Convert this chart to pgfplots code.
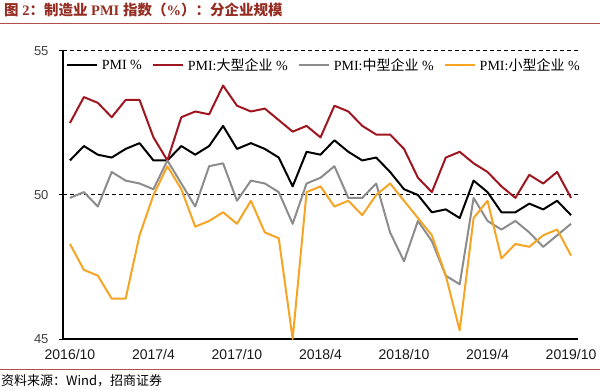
\documentclass[border=0pt]{standalone}
\usepackage{fontspec}
\setmainfont{Liberation Serif}
\newfontfamily\cjk{Noto Sans CJK SC}
\newfontfamily\arial{Liberation Sans}
\usepackage{pgfplots}
\pgfplotsset{compat=1.18}
\usepackage{pgfplotstable}
\definecolor{cblack}{RGB}{0,0,0}
\definecolor{cred}{RGB}{158,22,32}
\definecolor{cgrey}{RGB}{140,140,140}
\definecolor{corange}{RGB}{245,165,35}
\definecolor{ctitle}{RGB}{150,45,35}
\definecolor{cline}{RGB}{175,80,75}

\pgfplotstableread{
x pmi large medium small
0 51.2 52.5 49.9 48.3
1 51.7 53.4 50.1 47.4
2 51.4 53.2 49.6 47.2
3 51.3 52.7 50.8 46.4
4 51.6 53.3 50.5 46.4
5 51.8 53.3 50.4 48.6
6 51.2 52.0 50.2 50.0
7 51.2 51.2 51.2 51.0
8 51.7 52.7 50.4 50.2
9 51.4 52.9 49.6 48.9
10 51.7 52.8 51.0 49.1
11 52.4 53.8 51.1 49.4
12 51.6 53.1 49.8 49.0
13 51.8 52.9 50.5 49.8
14 51.6 53.0 50.4 48.7
15 51.3 52.6 50.1 48.5
16 50.3 52.2 49.0 45.0
17 51.5 52.4 50.4 50.1
18 51.4 52.0 50.6 50.3
19 51.9 53.1 51.0 49.6
20 51.5 52.9 49.9 49.8
21 51.2 52.4 49.9 49.3
22 51.3 52.1 50.4 50.0
23 50.8 52.1 48.7 50.4
24 50.2 51.6 47.7 49.8
25 50.0 50.6 49.1 49.2
26 49.4 50.1 48.4 48.6
27 49.5 51.3 47.2 47.2
28 49.2 51.5 46.9 45.3
29 50.5 51.1 49.9 49.2
30 50.1 50.8 49.1 49.8
31 49.4 50.3 48.8 47.8
32 49.4 49.9 49.1 48.3
33 49.7 50.7 48.7 48.2
34 49.5 50.4 48.2 48.6
35 49.8 50.8 48.6 48.8
36 49.3 49.9 49.0 47.9
}\data

\begin{document}
\begin{tikzpicture}[x=1pt,y=1pt]
\useasboundingbox (-63,-52) rectangle (537,339);
\begin{axis}[
  at={(0,0)}, anchor=south west,
  scale only axis, width=515pt, height=288pt,
  xmin=-0.5, xmax=36.5, ymin=45, ymax=55,
  axis x line*=bottom, axis y line*=left,
  axis line style={line width=1.3pt, black},
  xtick={0,6,12,18,24,30,36},
  xticklabels={2016/10,2017/4,2017/10,2018/4,2018/10,2019/4,2019/10},
  xtick style={draw=none},
  ytick={45,50,55}, yticklabels={45,50,55},
  ytick style={line width=1pt, black},
  tick align=outside, major tick length=4pt,
  ymajorgrids, grid style={black, line width=1pt, dash pattern=on 4pt off 3pt},
  xticklabel style={font=\arial\fontsize{14}{16}\selectfont, text=black!90, yshift=-3pt},
  yticklabel style={font=\arial\fontsize{13}{15}\selectfont, text=black!75, xshift=-7pt},
  legend style={at={(0.005,0.95)}, anchor=west, draw=none, fill=none,
    font=\fontsize{14}{16}\selectfont, inner xsep=0pt,
    /tikz/every odd column/.append style={column sep=2pt},
    /tikz/every even column/.append style={column sep=8pt}},
  legend columns=4,
  legend image code/.code={\draw[#1] (0pt,0pt) -- (30pt,0pt);},
  every axis plot/.append style={line width=2pt, line join=round},
  clip=false,
]
\addplot[cblack] table[x=x,y=pmi]{\data};
\addlegendentry{PMI \%}
\addplot[cred] table[x=x,y=large]{\data};
\addlegendentry{PMI:{\cjk 大型企业} \%}
\addplot[cgrey] table[x=x,y=medium]{\data};
\addlegendentry{PMI:{\cjk 中型企业} \%}
\addplot[corange] table[x=x,y=small]{\data};
\addlegendentry{PMI:{\cjk 小型企业} \%}
\end{axis}
\node[anchor=west, text=ctitle, font=\bfseries\fontsize{14.5}{17}\selectfont, inner sep=0pt] at (-59,329)
  {{\cjk 图}\ 2{\cjk ：制造业}\ PMI\ {\cjk 指数（}\%{\cjk ）：分企业规模}};
\draw[cline, line width=1.5pt] (-63,315.5) -- (537,315.5);
\draw[cline, line width=0.6pt] (-63,-30) -- (537,-30);
\node[anchor=west, font=\cjk\fontsize{13}{15}\selectfont, inner sep=0pt] at (-62,-42)
  {资料来源：Wind，招商证券};
\end{tikzpicture}
\end{document}
